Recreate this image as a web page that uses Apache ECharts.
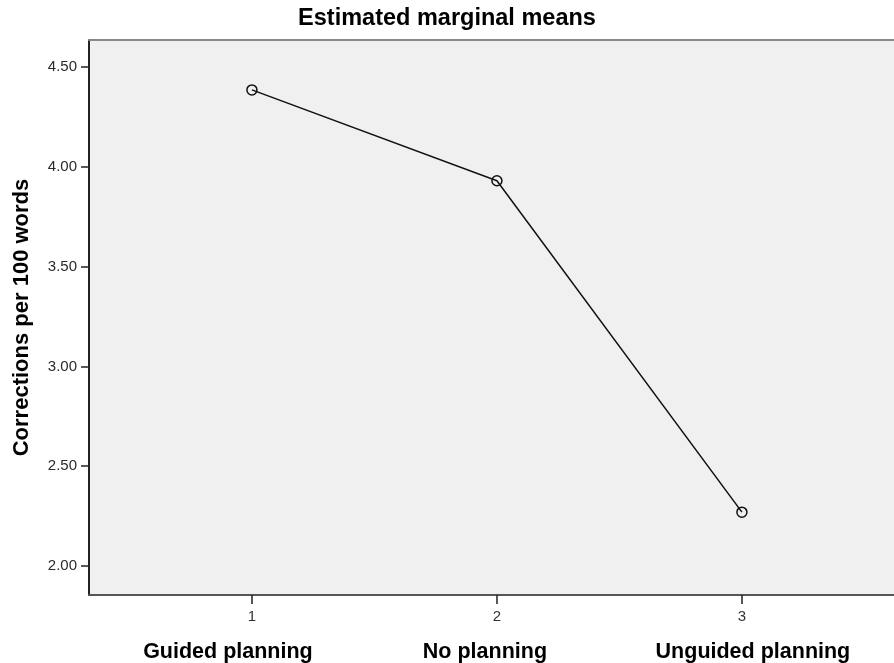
<!DOCTYPE html>
<html>
<head>
<meta charset="utf-8">
<script src="https://cdn.jsdelivr.net/npm/echarts@6/dist/echarts.min.js"></script>
<style>
  html, body { margin: 0; padding: 0; background: #fff; }
  #main { width: 894px; height: 663px; }
</style>
</head>
<body>
<div id="main"></div>
<script>
// data
const levels = [1, 2, 3]
const groupNames = ['Guided planning', 'No planning', 'Unguided planning']
const means = [4.385, 3.93, 2.27]
const yTicks = [2.0, 2.5, 3.0, 3.5, 4.0, 4.5]

const chart = echarts.init(document.getElementById('main'))

// the group names sit a little off their ticks in the original
const nameStyle = (pad) => ({
  fontFamily: 'Liberation Sans',
  fontSize: 21.5,
  fontWeight: 'bold',
  color: '#000',
  lineHeight: 52,
  padding: pad
})

const option = {
  animation: false,
  title: {
    text: 'Estimated marginal means',
    left: 'center',
    top: 2,
    padding: [5, 5, 5, 14],
    textStyle: {
      fontFamily: 'Liberation Sans',
      fontSize: 23.5,
      fontWeight: 'bold',
      color: '#000'
    }
  },
  grid: {
    left: 89,
    top: 40,
    bottom: 68,
    right: -40,
    outerBoundsMode: 'none',
    show: true,
    backgroundColor: '#f0f0f0',
    borderWidth: 0
  },
  xAxis: [
    {
      type: 'value',
      min: 0.335,
      max: 3.784,
      splitLine: { show: false },
      axisLine: { lineStyle: { color: '#555', width: 2 } },
      axisTick: {
        customValues: levels,
        length: 9,
        lineStyle: { color: '#222', width: 1.5 }
      },
      axisLabel: {
        customValues: levels,
        margin: 13,
        formatter: (v) => {
          const i = levels.indexOf(Math.round(v))
          return '{n|' + levels[i] + '}\n{c' + i + '|' + groupNames[i] + '}'
        },
        rich: {
          n: {
            fontFamily: 'Liberation Sans',
            fontSize: 15,
            color: '#333',
            lineHeight: 18
          },
          c0: nameStyle([0, 48, 0, 0]),
          c1: nameStyle([0, 24, 0, 0]),
          c2: nameStyle([0, 0, 0, 22])
        }
      }
    },
    {
      // top frame line
      type: 'value',
      position: 'top',
      min: 0.335,
      max: 3.784,
      splitLine: { show: false },
      axisLine: { show: true, lineStyle: { color: '#888', width: 2 } },
      axisTick: { show: false },
      axisLabel: { show: false }
    }
  ],
  yAxis: {
    type: 'value',
    min: 1.855,
    max: 4.635,
    name: 'Corrections per 100 words',
    nameLocation: 'middle',
    nameGap: 56,
    nameTextStyle: {
      fontFamily: 'Liberation Sans',
      fontSize: 22,
      fontWeight: 'bold',
      color: '#000'
    },
    splitLine: { show: false },
    axisLine: { show: true, lineStyle: { color: '#222', width: 2 } },
    axisTick: {
      show: true,
      customValues: yTicks,
      length: 8,
      lineStyle: { color: '#222', width: 1.5 }
    },
    axisLabel: {
      customValues: yTicks,
      margin: 12,
      fontFamily: 'Liberation Sans',
      fontSize: 15,
      color: '#2a2a2a',
      formatter: (v) => v.toFixed(2)
    }
  },
  series: [
    {
      type: 'line',
      xAxisIndex: 0,
      data: levels.map((x, i) => [x, means[i]]),
      symbol: 'circle',
      symbolSize: 10,
      lineStyle: { color: '#111', width: 1.5 },
      itemStyle: { color: 'transparent', borderColor: '#111', borderWidth: 1.5 }
    }
  ]
}

chart.setOption(option)
</script>
</body>
</html>
